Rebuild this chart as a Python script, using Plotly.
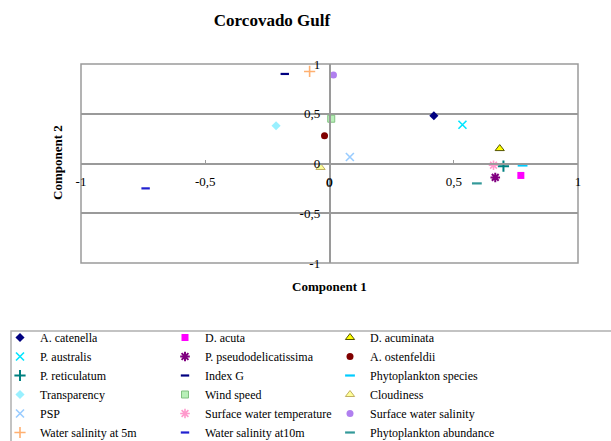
import plotly.graph_objects as go

names = ["A. catenella", "D. acuta", "D. acuminata",
         "P. australis", "P. pseudodelicatissima", "A. ostenfeldii",
         "P. reticulatum", "Index G", "Phytoplankton species",
         "Transparency", "Wind speed", "Cloudiness",
         "PSP", "Surface water temperature", "Surface water salinity",
         "Water salinity at 5m", "Water salinity at10m", "Phytoplankton abundance"]
comp1 = [0.42, 0.77, 0.685,
         0.535, 0.667, -0.02,
         0.70, -0.18, 0.777,
         -0.215, 0.007, -0.036,
         0.082, 0.66, 0.016,
         -0.08, -0.74, 0.593]
comp2 = [0.48, -0.12, 0.15,
         0.39, -0.14, 0.28,
         -0.027, 0.90, -0.02,
         0.38, 0.45, -0.04,
         0.065, -0.017, 0.89,
         0.925, -0.25, -0.20]
tick_vals = [-1, -0.5, 0, 0.5, 1]
tick_text = ["-1", "-0,5", "0", "0,5", "1"]

symbols = ["diamond", "square", "triangle-up",
           "x-thin-open", "asterisk-open", "circle",
           "cross-thin-open", "line-ew-open", "line-ew-open",
           "diamond", "square", "triangle-up",
           "x-thin-open", "asterisk-open", "circle",
           "cross-thin-open", "line-ew-open", "line-ew-open"]
colors = ["#000080", "#FF00FF", "#FFFF00",
          "#00E5FF", "#800080", "#800000",
          "#008080", "#000080", "#00CCFF",
          "#99F0FF", "#B8F0B8", "#FFFF99",
          "#99CCFF", "#FF99CC", "#B07FEF",
          "#FFB070", "#2020D0", "#339999"]
lines = ["#000080", "#FF00FF", "#555500",
         "#00E5FF", "#800080", "#800000",
         "#008080", "#000080", "#00CCFF",
         "#99F0FF", "#80C080", "#C0B060",
         "#99CCFF", "#FF99CC", "#B07FEF",
         "#FFB070", "#2020D0", "#339999"]
sizes = [7, 7, 8, 8, 8, 7, 8, 6, 7, 7, 7, 8, 8, 8, 7, 8, 6, 7]
lwid = [0, 0, 1, 1.6, 2, 0, 2, 2.2, 2.2, 0, 1, 1, 1.6, 1.6, 0, 1.6, 2.2, 2.2]

fig = go.Figure()
for n, xv, yv, s, c, lc, sz, lw in zip(names, comp1, comp2, symbols, colors, lines, sizes, lwid):
    fig.add_trace(go.Scatter(
        x=[xv], y=[yv], mode="markers", name=n,
        marker=dict(symbol=s, color=c, size=sz, line=dict(color=lc, width=lw)),
    ))

W, H = 611, 441
ml, mr, mt, mb = 81, 33, 64, 178
PW, PH = W - ml - mr, H - mt - mb
font_family = "Liberation Serif"
grid = "#9a9a9a"


def px_x(p):
    return (p - ml) / PW


def px_y(p):
    return (H - mb - p) / PH


fig.update_layout(
    width=W, height=H,
    margin=dict(l=ml, r=mr, t=mt, b=mb),
    paper_bgcolor="white", plot_bgcolor="white",
    font=dict(family=font_family, size=13, color="black"),
    separators=", ",
    title=dict(text="<b>Corcovado Gulf</b>", x=272 / W, xref="container", xanchor="center",
               y=1 - 20 / H, yref="container", yanchor="middle",
               font=dict(family=font_family, size=17, color="black")),
    xaxis=dict(range=[-1, 1], anchor="free", position=0.5, showgrid=False, zeroline=False,
               showline=True, linecolor=grid, linewidth=1.5,
               tickmode="array", tickvals=tick_vals, ticktext=tick_text,
               ticks="inside", ticklen=3, tickcolor=grid, ticklabelstandoff=6,
               tickfont=dict(family=font_family, size=13, color="black")),
    yaxis=dict(range=[-1, 1], anchor="free", position=0.5, showgrid=True, gridcolor=grid,
               gridwidth=1.5, zeroline=False,
               showline=True, linecolor=grid, linewidth=1.5,
               tickmode="array", tickvals=tick_vals, ticktext=tick_text,
               ticks="", ticklabelstandoff=6,
               tickfont=dict(family=font_family, size=13, color="black")),
    showlegend=True,
    legend=dict(orientation="h", xref="container", yref="container",
                x=0, y=1 - 323 / H, xanchor="left", yanchor="top",
                entrywidth=120, entrywidthmode="pixels", itemwidth=30,
                bgcolor="rgba(0,0,0,0)", borderwidth=0,
                font=dict(family=font_family, size=12, color="black"),
                traceorder="normal"),
    shapes=[
        dict(type="rect", xref="paper", yref="paper", x0=0, x1=1, y0=0, y1=1,
             line=dict(color=grid, width=1.5), layer="below"),
        dict(type="rect", xref="paper", yref="paper",
             x0=px_x(11), x1=px_x(640), y0=px_y(460), y1=px_y(331),
             line=dict(color="#b0b0b0", width=1.5), layer="below"),
    ],
    annotations=[
        dict(text="0", xref="x", yref="paper", x=tick_vals[2], y=0.5, yshift=-19,
             xanchor="center", yanchor="middle", showarrow=False,
             font=dict(family=font_family, size=13, color="black")),
        dict(text="<b>Component 1</b>", xref="paper", yref="paper", x=0.5,
             y=px_y(286), xanchor="center", yanchor="middle",
             showarrow=False, font=dict(family=font_family, size=13, color="black")),
        dict(text="<b>Component 2</b>", xref="paper", yref="paper",
             x=px_x(57), y=px_y(163),
             xanchor="center", yanchor="middle", textangle=-90,
             showarrow=False, font=dict(family=font_family, size=13, color="black")),
    ],
)

fig.write_html("out.html")
